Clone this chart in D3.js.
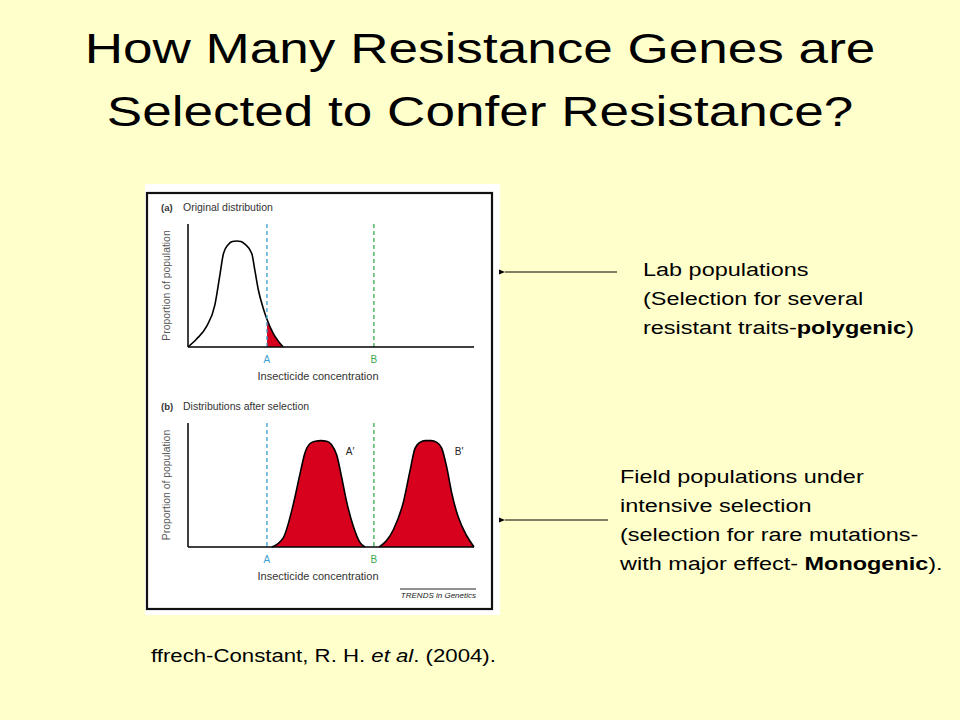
<!DOCTYPE html>
<html>
<head>
<meta charset="utf-8">
<script src="https://cdn.jsdelivr.net/npm/d3@7"></script>
<style>
  html, body { margin: 0; padding: 0; background: #ffffcc; }
  svg { display: block; }
</style>
</head>
<body>
<div id="svg-container"></div>
<script>
////////////////////////////  Data  ////////////////////////////
// (a) original distribution, x = insecticide concentration (0-100), y = proportion (0-1)
const origX = [0, 3, 6.5, 9.4, 11.2, 12.4, 14.1, 15.5, 17, 18.5, 20, 22.3, 23.4, 24.6, 26.3, 27.5, 29.8, 33.3];
const origY = [0, 0.07, 0.18, 0.37, 0.64, 0.82, 0.9, 0.925, 0.93, 0.925, 0.9, 0.82, 0.67, 0.5, 0.34, 0.25, 0.12, 0];

// (b) distributions after selection
const selAX = [29.3, 33.3, 36.8, 39.2, 40.9, 42.7, 44.5, 46.5, 48.5, 50.2, 52, 53.7, 55.5, 57.8, 60.1, 61.9];
const selAY = [0, 0.08, 0.37, 0.64, 0.82, 0.9, 0.92, 0.925, 0.92, 0.89, 0.8, 0.61, 0.39, 0.18, 0.04, 0];
const selBX = [66.9, 71.8, 75.3, 77.6, 79.4, 81.1, 83, 85, 87, 88.7, 90.5, 92.2, 94.5, 97.4, 100];
const selBY = [0, 0.15, 0.39, 0.66, 0.86, 0.91, 0.925, 0.925, 0.91, 0.86, 0.69, 0.47, 0.26, 0.1, 0];

// dose thresholds
const doseNames = ["A", "B"];
const doseValues = [27.6, 65];
const doseColors = ["#3b9fd1", "#3aaa4a"];

const peakLabels = ["A\u2032", "B\u2032"];
const peakLabelX = [55.2, 93.3];

const titleLines = ["How Many Resistance Genes are", "Selected to Confer Resistance?"];

////////////////////////////  Init  ////////////////////////////
const width = 960;
const height = 720;
const stretch = 1.235; // slide text is drawn wider than it is tall
const svg = d3.select("#svg-container").append("svg")
  .attr("width", width).attr("height", height);

svg.append("rect").attr("width", width).attr("height", height).attr("fill", "#ffffcc");

const slideFont = "Liberation Sans, Arial, sans-serif";

// title
svg.selectAll(".title").data(titleLines).join("text")
  .attr("transform", (d, i) => `translate(480,${63 + i * 63}) scale(${stretch},1)`)
  .attr("text-anchor", "middle")
  .attr("font-family", slideFont)
  .attr("font-size", 43)
  .attr("fill", "#000")
  .text((d) => d);

// figure card
svg.append("rect").attr("x", 145).attr("y", 184).attr("width", 355).attr("height", 431).attr("fill", "#fff");
svg.append("rect").attr("x", 147).attr("y", 193).attr("width", 345).attr("height", 416)
  .attr("fill", "none").attr("stroke", "#111").attr("stroke-width", 2.2);

const xScale = d3.scaleLinear().domain([0, 100]).range([188, 474]);

const figFont = "Liberation Sans, Arial, sans-serif";

function panel(top, base, letter, title, curves, clipFrom) {
  const yScale = d3.scaleLinear().domain([0, 1]).range([base, top + 9]);
  const g = svg.append("g");

  g.append("text").attr("x", 161).attr("y", top - 13)
    .attr("font-family", figFont).attr("font-size", 9.5).attr("font-weight", "bold").attr("fill", "#333")
    .text(letter);
  g.append("text").attr("x", 183).attr("y", top - 13)
    .attr("font-family", figFont).attr("font-size", 10.5).attr("fill", "#333")
    .text(title);

  const area = d3.area().x((d) => xScale(d[0])).y0(base).y1((d) => yScale(d[1])).curve(d3.curveMonotoneX);
  const line = d3.line().x((d) => xScale(d[0])).y((d) => yScale(d[1])).curve(d3.curveMonotoneX);

  curves.forEach((c, i) => {
    const pts = c.x.map((v, j) => [v, c.y[j]]);
    if (c.fill) {
      let clip = null;
      if (clipFrom != null) {
        const id = "clip" + letter.replace(/\W/g, "") + i;
        g.append("clipPath").attr("id", id).append("rect")
          .attr("x", xScale(clipFrom)).attr("y", top).attr("width", 300).attr("height", base - top);
        clip = "url(#" + id + ")";
      }
      g.append("path").datum(pts).attr("d", area).attr("fill", "#d7001d").attr("clip-path", clip);
    }
    g.append("path").datum(pts).attr("d", line).attr("fill", "none").attr("stroke", "#000").attr("stroke-width", 1.6);
  });

  // dose lines
  doseValues.forEach((v, i) => {
    g.append("line").attr("x1", xScale(v)).attr("x2", xScale(v)).attr("y1", top).attr("y2", base)
      .attr("stroke", doseColors[i]).attr("stroke-width", 1.3).attr("stroke-dasharray", "4,3");
    g.append("text").attr("x", xScale(v)).attr("y", base + 16).attr("text-anchor", "middle")
      .attr("font-family", figFont).attr("font-size", 10).attr("fill", doseColors[i])
      .text(doseNames[i]);
  });

  // axes
  g.append("line").attr("x1", 188).attr("x2", 188).attr("y1", top).attr("y2", base).attr("stroke", "#000").attr("stroke-width", 1.5);
  g.append("line").attr("x1", 188).attr("x2", 474).attr("y1", base).attr("y2", base).attr("stroke", "#000").attr("stroke-width", 1.5);

  g.append("text").attr("x", 318).attr("y", base + 33).attr("text-anchor", "middle")
    .attr("font-family", figFont).attr("font-size", 11).attr("fill", "#333")
    .text("Insecticide concentration");
  g.append("text")
    .attr("transform", `translate(170,${(top + base) / 2}) rotate(-90)`)
    .attr("text-anchor", "middle")
    .attr("font-family", figFont).attr("font-size", 10.4).attr("fill", "#555")
    .text("Proportion of population");
  return { g, yScale };
}

panel(224, 347, "(a)", "Original distribution",
  [{ x: origX, y: origY, fill: true }], doseValues[0]);

const pb = panel(423, 547, "(b)", "Distributions after selection",
  [{ x: selAX, y: selAY, fill: true }, { x: selBX, y: selBY, fill: true }], null);

pb.g.selectAll(".peak").data(peakLabels).join("text")
  .attr("x", (d, i) => xScale(peakLabelX[i]))
  .attr("y", pb.yScale(0.8))
  .attr("font-family", figFont).attr("font-size", 10).attr("fill", "#222")
  .text((d) => d);

// journal mark
svg.append("line").attr("x1", 400).attr("x2", 476).attr("y1", 589).attr("y2", 589).attr("stroke", "#222").attr("stroke-width", 1);
svg.append("text").attr("x", 476).attr("y", 598).attr("text-anchor", "end")
  .attr("font-family", figFont).attr("font-size", 8).attr("font-style", "italic").attr("fill", "#222")
  .text("TRENDS in Genetics");

// arrows + notes
svg.append("defs").append("marker").attr("id", "head")
  .attr("viewBox", "0 0 10 10").attr("refX", 0).attr("refY", 5)
  .attr("markerWidth", 6).attr("markerHeight", 6).attr("orient", "auto")
  .append("path").attr("d", "M10,1 L0,5 L10,9 Z").attr("fill", "#000");

[[617, 272], [608, 520]].forEach(([x0, y]) => {
  svg.append("line").attr("x1", x0).attr("x2", 505).attr("y1", y).attr("y2", y)
    .attr("stroke", "#000").attr("stroke-width", 1).attr("marker-end", "url(#head)");
});

function note(x, y0, lines) {
  const t = svg.append("text")
    .attr("transform", `translate(${x},${y0}) scale(${stretch},1)`)
    .attr("font-family", slideFont).attr("font-size", 19).attr("fill", "#000");
  lines.forEach((parts, i) => {
    parts.forEach((p, j) => {
      const ts = t.append("tspan").text(p[0]);
      if (j === 0) ts.attr("x", 0).attr("y", i * 29);
      if (p[1]) ts.attr("font-weight", "bold");
    });
  });
}

note(643, 276, [
  [["Lab populations"]],
  [["(Selection for several"]],
  [["resistant traits-"], ["polygenic", true], [")"]]
]);

note(620, 483, [
  [["Field populations under"]],
  [["intensive selection"]],
  [["(selection for rare mutations-"]],
  [["with major effect- "], ["Monogenic", true], [")."]]
]);

// citation
const cite = svg.append("text").attr("transform", `translate(151,662) scale(1.2,1)`)
  .attr("font-family", slideFont).attr("font-size", 18.5).attr("fill", "#000");
cite.append("tspan").text("ffrech-Constant, R. H. ");
cite.append("tspan").attr("font-style", "italic").text("et al");
cite.append("tspan").text(". (2004).");
</script>
</body>
</html>
